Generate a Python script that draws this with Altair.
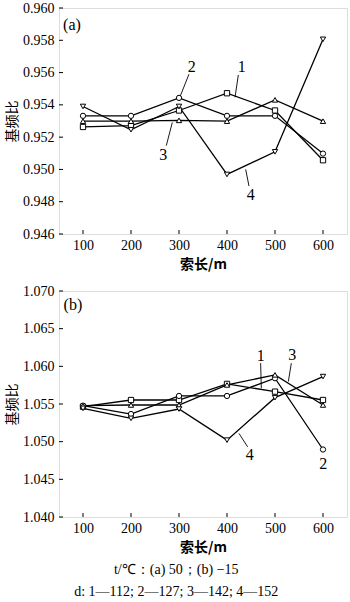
import altair as alt
import pandas as pd

lengths = [100, 200, 300, 400, 500, 600]
series_ids = ["1", "2", "3", "4"]
shapes = ["square", "circle", "triangle-up", "triangle-down"]

a_s1 = [0.95263, 0.95271, 0.95365, 0.95472, 0.95365, 0.95057]
a_s2 = [0.95332, 0.95332, 0.95443, 0.95332, 0.95332, 0.95098]
a_s3 = [0.95299, 0.95299, 0.95304, 0.95299, 0.95431, 0.95299]
a_s4 = [0.95390, 0.95246, 0.95390, 0.94969, 0.95109, 0.95806]

b_s1 = [1.05464, 1.05553, 1.05553, 1.05767, 1.05664, 1.05553]
b_s2 = [1.05478, 1.05367, 1.05607, 1.05607, 1.05842, 1.04896]
b_s3 = [1.05478, 1.05487, 1.05487, 1.05753, 1.05887, 1.05487]
b_s4 = [1.05442, 1.05309, 1.05433, 1.05020, 1.05584, 1.05864]

a_yticks = [0.946, 0.948, 0.950, 0.952, 0.954, 0.956, 0.958, 0.960]
b_yticks = [1.040, 1.045, 1.050, 1.055, 1.060, 1.065, 1.070]

# curve labels (text, x, y) and leader lines (x, y, x2, y2)
a_lab_text = ["1", "2", "3", "4", "(a)"]
a_lab_x = [430.6, 326.4, 267.4, 449.3, 77]
a_lab_y = [0.95636, 0.95636, 0.95092, 0.94840, 0.95892]
a_lead_x = [423.6, 320.8, 273.6, 445.8]
a_lead_y = [0.95585, 0.95590, 0.95148, 0.94897]
a_lead_x2 = [416.7, 301.4, 286.1, 438.9]
a_lead_y2 = [0.95447, 0.95445, 0.95291, 0.95000]

b_lab_text = ["1", "3", "4", "2", "(b)"]
b_lab_x = [470.1, 536.1, 447.2, 600.7, 79]
b_lab_y = [1.06131, 1.06144, 1.04820, 1.04709, 1.0682]
b_lead_x = [470.1, 534.0, 443.0]
b_lead_y = [1.06042, 1.06042, 1.04931]
b_lead_x2 = [471.5, 527.8, 425.0]
b_lead_y2 = [1.05709, 1.05798, 1.05109]

W, H = 288, 226
SERIF = "Liberation Serif"
CJK = "Noto Sans CJK SC"


def panel(series, ydom, yticks, lab_text, lab_x, lab_y, lx, ly, lx2, ly2):
    rows = []
    for sid, vals in zip(series_ids, series):
        for L, v in zip(lengths, vals):
            rows.append({"len": L, "val": v, "s": sid})
    df = pd.DataFrame(rows)
    xs = alt.Scale(domain=[50, 650], nice=False, zero=False)
    ys = alt.Scale(domain=ydom, nice=False, zero=False)
    xax = alt.Axis(values=lengths, title="索长/m", tickSize=0, labelPadding=4,
                   grid=False, domain=False, labelFont=SERIF, labelFontSize=14,
                   labelColor="black", labelOverlap=False, titleFont=CJK,
                   titleFontSize=14, titleFontWeight="bold", titleColor="black",
                   titlePadding=5)
    yax = alt.Axis(values=yticks, format=".3f", title="基频比", tickSize=0,
                   labelPadding=5, grid=False, domain=False, labelFont=SERIF,
                   labelFontSize=14, labelColor="black", labelOverlap=False,
                   labelBound=False, titleFont=CJK,
                   titleFontSize=14, titleFontWeight="normal", titleColor="black",
                   titlePadding=3)
    base = alt.Chart(df)
    lines = base.mark_line(color="black", strokeWidth=1.3).encode(
        x=alt.X("len:Q", scale=xs, axis=xax),
        y=alt.Y("val:Q", scale=ys, axis=yax),
        detail="s:N",
    )
    pts = base.mark_point(filled=True, fill="white", stroke="black",
                          strokeWidth=1, size=28, opacity=1).encode(
        x=alt.X("len:Q", scale=xs, axis=xax),
        y=alt.Y("val:Q", scale=ys, axis=yax),
        shape=alt.Shape("s:N", scale=alt.Scale(domain=series_ids, range=shapes),
                        legend=None),
    )
    ldf = pd.DataFrame({"x": lx, "y": ly, "x2": lx2, "y2": ly2})
    leaders = alt.Chart(ldf).mark_rule(color="black", strokeWidth=0.9).encode(
        x=alt.X("x:Q", scale=xs, axis=xax), y=alt.Y("y:Q", scale=ys, axis=yax),
        x2="x2:Q", y2="y2:Q")
    tdf = pd.DataFrame({"t": lab_text, "x": lab_x, "y": lab_y})
    texts = alt.Chart(tdf).mark_text(font=SERIF, fontSize=16, color="black",
                                     baseline="middle").encode(
        x=alt.X("x:Q", scale=xs, axis=xax), y=alt.Y("y:Q", scale=ys, axis=yax),
        text="t:N")
    ytk = alt.Chart(pd.DataFrame({"v": yticks})).mark_rule(color="black").encode(
        y=alt.Y("v:Q", scale=ys, axis=yax), x=alt.value(0), x2=alt.value(4))
    xtk = alt.Chart(pd.DataFrame({"v": lengths})).mark_rule(color="black").encode(
        x=alt.X("v:Q", scale=xs, axis=xax), y=alt.value(H), y2=alt.value(H - 4))
    return alt.layer(lines, leaders, pts, texts, ytk, xtk).properties(width=W, height=H)


pa = panel([a_s1, a_s2, a_s3, a_s4], [0.946, 0.960], a_yticks,
           a_lab_text, a_lab_x, a_lab_y, a_lead_x, a_lead_y, a_lead_x2, a_lead_y2)
pb = panel([b_s1, b_s2, b_s3, b_s4], [1.040, 1.070], b_yticks,
           b_lab_text, b_lab_x, b_lab_y, b_lead_x, b_lead_y, b_lead_x2, b_lead_y2)

chart = alt.vconcat(pa, pb, spacing=11).properties(
    title=alt.TitleParams(
        text=["t/℃：(a) 50；(b) −15", "d: 1—112; 2—127; 3—142; 4—152"],
        orient="bottom", anchor="middle", font=SERIF, fontSize=14,
        fontWeight="normal", color="black", lineHeight=22, offset=8),
    padding={"left": 5, "top": 0, "right": 2, "bottom": 0},
).configure_view(stroke="black", strokeWidth=1).configure(
    background="white"
).configure_axis(labelFont=SERIF, labelOverlap=False, labelFontSize=14)

chart.save("out.html", embed_options={"renderer": "svg", "actions": False})
